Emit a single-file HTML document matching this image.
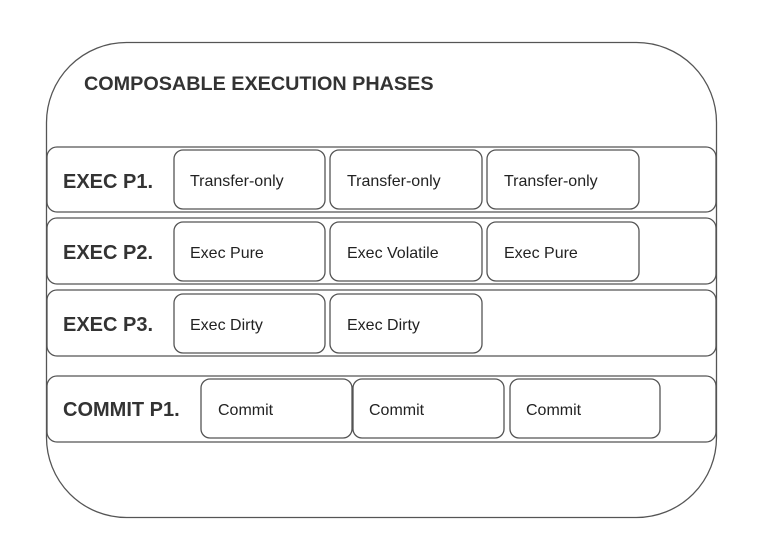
<!DOCTYPE html>
<html><head><meta charset="utf-8"><style>
html,body{margin:0;padding:0;background:#fff;}
svg{display:block;}
text{font-family:"Liberation Sans",Arial,sans-serif;fill:#222;}
.b{font-weight:bold;fill:#333;}
rect{fill:#fff;stroke:#555;stroke-width:1.3;}
</style></head><body>
<svg width="757" height="548" viewBox="0 0 757 548">
<rect x="46.5" y="42.5" width="670" height="475" rx="80" ry="80"/>
<text class="b" x="84" y="90" font-size="19.8">COMPOSABLE EXECUTION PHASES</text>

<rect x="47" y="147" width="669" height="65" rx="10"/>
<text class="b" x="63" y="188" font-size="20">EXEC P1.</text>
<rect x="174" y="150" width="151" height="59" rx="9"/>
<rect x="330" y="150" width="152" height="59" rx="9"/>
<rect x="487" y="150" width="152" height="59" rx="9"/>
<text x="190" y="186" font-size="16">Transfer-only</text>
<text x="347" y="186" font-size="16">Transfer-only</text>
<text x="504" y="186" font-size="16">Transfer-only</text>

<rect x="47" y="218" width="669" height="66" rx="10"/>
<text class="b" x="63" y="259" font-size="20">EXEC P2.</text>
<rect x="174" y="222" width="151" height="59" rx="9"/>
<rect x="330" y="222" width="152" height="59" rx="9"/>
<rect x="487" y="222" width="152" height="59" rx="9"/>
<text x="190" y="258" font-size="16">Exec Pure</text>
<text x="347" y="258" font-size="16">Exec Volatile</text>
<text x="504" y="258" font-size="16">Exec Pure</text>

<rect x="47" y="290" width="669" height="66" rx="10"/>
<text class="b" x="63" y="331" font-size="20">EXEC P3.</text>
<rect x="174" y="294" width="151" height="59" rx="9"/>
<rect x="330" y="294" width="152" height="59" rx="9"/>
<text x="190" y="330" font-size="16">Exec Dirty</text>
<text x="347" y="330" font-size="16">Exec Dirty</text>

<rect x="47" y="376" width="669" height="66" rx="10"/>
<text class="b" x="63" y="416" font-size="20">COMMIT P1.</text>
<rect x="201" y="379" width="151" height="59" rx="9"/>
<rect x="353" y="379" width="151" height="59" rx="9"/>
<rect x="510" y="379" width="150" height="59" rx="9"/>
<text x="218" y="415" font-size="16">Commit</text>
<text x="369" y="415" font-size="16">Commit</text>
<text x="526" y="415" font-size="16">Commit</text>
</svg>
</body></html>
